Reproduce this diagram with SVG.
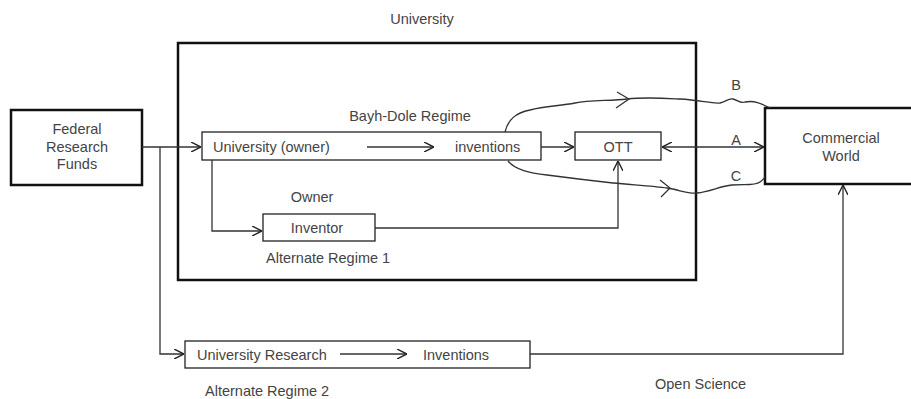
<svg xmlns="http://www.w3.org/2000/svg" width="911" height="399" viewBox="0 0 911 399">
<defs>
<marker id="ar" viewBox="0 0 10 10" refX="10" refY="5" markerWidth="10" markerHeight="10" markerUnits="userSpaceOnUse" orient="auto-start-reverse">
<path d="M0,0 L10,5 L0,10" fill="none" stroke="#222" stroke-width="1.4"/>
</marker>
<style>
text{font-family:"Liberation Sans",Arial,sans-serif;font-size:14.5px;fill:#444}
.box{fill:#fff;stroke:#222;stroke-width:1.3}
.big{fill:none;stroke:#111;stroke-width:2.5}
.ln{fill:none;stroke:#333;stroke-width:1.3}
.c{text-anchor:middle}
</style>
</defs>
<rect width="911" height="399" fill="#fff"/>
<g id="university">
<rect class="big" x="178" y="43" width="518" height="237"/>
<text x="422" y="24" class="c">University</text>
</g>
<g id="federal">
<rect class="big" x="11" y="110" width="131" height="75"/>
<text x="77" y="134" class="c">Federal</text>
<text x="77" y="152" class="c">Research</text>
<text x="77" y="169" class="c">Funds</text>
</g>
<g id="commercial">
<rect class="big" x="765" y="108" width="150" height="76"/>
<text x="841" y="143" class="c">Commercial</text>
<text x="841" y="161" class="c">World</text>
</g>
<g id="univowner">
<rect class="box" x="202" y="132" width="339" height="28"/>
<text x="213" y="152">University (owner)</text>
<text x="455" y="152">inventions</text>
<text x="410" y="121" class="c">Bayh-Dole  Regime</text>
</g>
<g id="ott">
<rect class="box" x="575" y="132" width="86" height="28"/>
<text x="618" y="152" class="c">OTT</text>
</g>
<g id="inventor">
<rect class="box" x="263" y="214" width="112" height="27"/>
<text x="317" y="233" class="c">Inventor</text>
<text x="312" y="202" class="c">Owner</text>
<text x="266" y="263">Alternate Regime 1</text>
</g>
<g id="univresearch">
<rect class="box" x="185" y="341" width="345" height="27"/>
<text x="197" y="360">University Research</text>
<text x="423" y="360">Inventions</text>
<text x="205" y="396">Alternate Regime 2</text>
</g>
<g id="labels">
<text x="655" y="389">Open Science</text>
<text x="736" y="145" class="c">A</text>
<text x="736" y="90" class="c">B</text>
<text x="736" y="181" class="c">C</text>
</g>
<g id="connectors">
<path class="ln" d="M142,147 H201" marker-end="url(#ar)"/>
<path class="ln" d="M160,147 V354 H184" marker-end="url(#ar)"/>
<path class="ln" d="M212,160 V231 H262" marker-end="url(#ar)"/>
<path class="ln" d="M367,147 H434" marker-end="url(#ar)"/>
<path class="ln" d="M541,147 H574" marker-end="url(#ar)"/>
<path class="ln" d="M375,228 H618 V161" marker-end="url(#ar)"/>
<path class="ln" d="M662,147 H764" marker-start="url(#ar)" marker-end="url(#ar)"/>
<path class="ln" d="M340,354 H407" marker-end="url(#ar)"/>
<path class="ln" d="M530,354 H843 V185" marker-end="url(#ar)"/>
<path class="ln" d="M505,132 C508,120 515,113 530,110 C545,106 560,106 575,103 C590,100 610,101 627,99 C645,97 660,98 680,99 C700,100 712,104 720,103 C726,102 728,98 733,99 C738,100 740,104 745,102 C755,100 762,104 770,108"/>
<path class="ln" d="M617,92 L629,99 L616,108"/>
<path class="ln" d="M508,161 C515,170 530,173 547,175 C570,178 595,181 613,183 C635,185 655,186 667,188 C680,190 688,194 697,193 C710,192 720,186 732,185 C745,184 755,186 760,182 C763,180 764,178 765,177"/>
<path class="ln" d="M660,180 L670,188 L661,197"/>
</g>
</svg>
